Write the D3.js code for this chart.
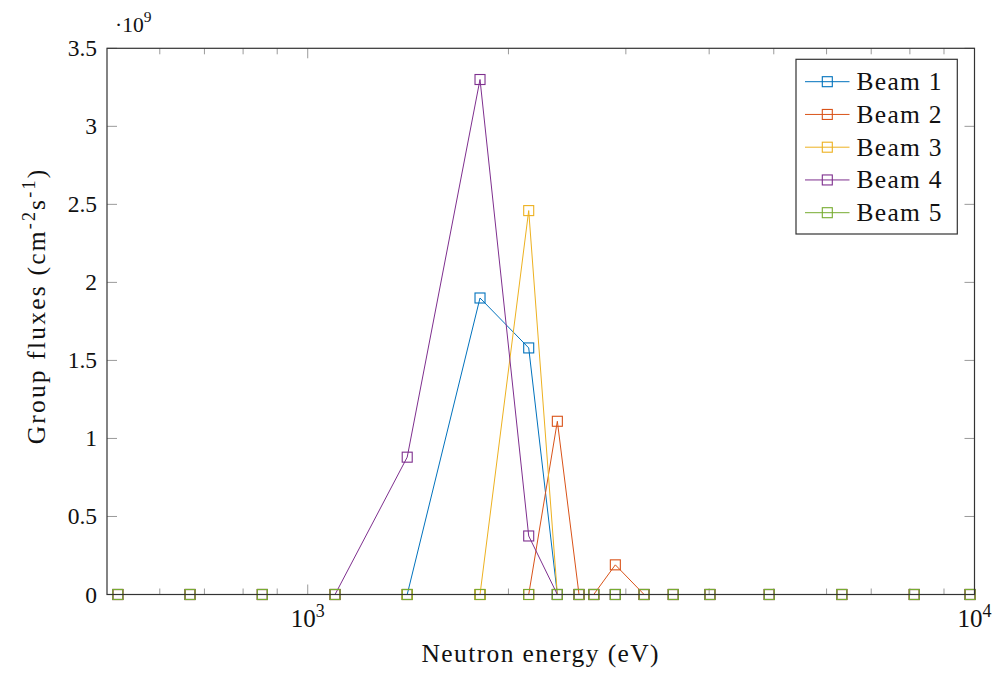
<!DOCTYPE html>
<html>
<head>
<meta charset="utf-8">
<script src="https://cdn.jsdelivr.net/npm/d3@7"></script>
<style>
  html, body { margin: 0; padding: 0; background: #fff; }
</style>
</head>
<body>
<svg id="chart" width="994" height="675" font-family="'Liberation Serif', 'DejaVu Serif', serif"></svg>
<script>
// Group energies (eV) at which the fluxes are tabulated
const energies = [519, 666, 855, 1099, 1410, 1813, 2145, 2368, 2552, 2685, 2893, 3195, 3534, 4010, 4923, 6323, 8123, 9848];

// Group fluxes per beam (cm^-2 s^-1)
const beam1 = [0, 0, 0, 0, 0, 1.90e9, 1.58e9, 0, 0, 0, 0, 0, 0, 0, 0, 0, 0, 0];
const beam2 = [0, 0, 0, 0, 0, 0, 0, 1.11e9, 0, 0, 0.19e9, 0, 0, 0, 0, 0, 0, 0];
const beam3 = [0, 0, 0, 0, 0, 0, 2.46e9, 0, 0, 0, 0, 0, 0, 0, 0, 0, 0, 0];
const beam4 = [0, 0, 0, 0, 0.88e9, 3.30e9, 0.375e9, 0, 0, 0, 0, 0, 0, 0, 0, 0, 0, 0];
const beam5 = [0, 0, 0, 0, 0, 0, 0, 0, 0, 0, 0, 0, 0, 0, 0, 0, 0, 0];

const seriesNames = ["Beam 1", "Beam 2", "Beam 3", "Beam 4", "Beam 5"];
const seriesValues = [beam1, beam2, beam3, beam4, beam5];
const seriesColors = ["#0072BD", "#D95319", "#EDB120", "#7E2F8E", "#77AC30"];

const yTicks = [0, 0.5e9, 1e9, 1.5e9, 2e9, 2.5e9, 3e9, 3.5e9];
const xMajorTicks = [1e3, 1e4];
const xMinorTicks = [600, 700, 800, 900, 2000, 3000, 4000, 5000, 6000, 7000, 8000, 9000];

const svg = d3.select("#chart");
const L = 107, R = 974.5, T = 48.3, B = 594.5;

const x = d3.scaleLog().domain([500, 10000]).range([L, R]);
const y = d3.scaleLinear().domain([0, 3.5e9]).range([B, T]);

// tick marks, drawn inward on all four sides
const tickG = svg.append("g").attr("stroke", "#9a9a9a").attr("stroke-width", 1);
yTicks.forEach(v => {
  tickG.append("line").attr("x1", L).attr("x2", L + 10).attr("y1", y(v)).attr("y2", y(v));
  tickG.append("line").attr("x1", R).attr("x2", R - 10).attr("y1", y(v)).attr("y2", y(v));
});
xMajorTicks.forEach(v => {
  tickG.append("line").attr("x1", x(v)).attr("x2", x(v)).attr("y1", B).attr("y2", B - 10);
  tickG.append("line").attr("x1", x(v)).attr("x2", x(v)).attr("y1", T).attr("y2", T + 10);
});
xMinorTicks.forEach(v => {
  tickG.append("line").attr("x1", x(v)).attr("x2", x(v)).attr("y1", B).attr("y2", B - 6);
  tickG.append("line").attr("x1", x(v)).attr("x2", x(v)).attr("y1", T).attr("y2", T + 6);
});

// y tick labels
svg.append("g").selectAll("text").data(yTicks).join("text")
  .attr("x", 97).attr("y", d => y(d) + 8)
  .attr("text-anchor", "end").attr("font-size", 23.5).attr("fill", "#111")
  .text(d => d3.format("~g")(d / 1e9));

// x tick labels: 10^3, 10^4
xMajorTicks.forEach(v => {
  const t = svg.append("text").attr("x", x(v)).attr("y", 627)
    .attr("text-anchor", "middle").attr("font-size", 25).attr("fill", "#111");
  t.append("tspan").text("10");
  t.append("tspan").attr("dy", -10).attr("font-size", 18).text(Math.round(Math.log10(v)));
});

// scale factor above the y axis
const sf = svg.append("text").attr("x", 115).attr("y", 31.5).attr("font-size", 21.5).attr("fill", "#111");
sf.append("tspan").text("·10");
sf.append("tspan").attr("dy", -10).attr("font-size", 15.5).text("9");

// axis titles
svg.append("text").attr("x", (L + R) / 2).attr("y", 662)
  .attr("text-anchor", "middle").attr("font-size", 25.5).attr("fill", "#111")
  .attr("letter-spacing", 1.4)
  .text("Neutron energy (eV)");

const yl = svg.append("text")
  .attr("transform", "translate(45,306) rotate(-90)")
  .attr("text-anchor", "middle").attr("font-size", 25.5).attr("fill", "#111")
  .attr("letter-spacing", 2.2);
yl.append("tspan").text("Group fluxes (cm");
yl.append("tspan").attr("dy", -10).attr("font-size", 18).text("-2");
yl.append("tspan").attr("dy", 10).text("s");
yl.append("tspan").attr("dy", -10).attr("font-size", 18).text("-1");
yl.append("tspan").attr("dy", 10).text(")");

// plot lines with hollow square markers
const line = d3.line().x(d => x(d[0])).y(d => y(d[1]));
const plotG = svg.append("g");
seriesValues.forEach((vals, i) => {
  const pts = energies.map((e, j) => [e, vals[j]]);
  const g = plotG.append("g");
  g.append("path").attr("d", line(pts)).attr("fill", "none")
    .attr("stroke", seriesColors[i]).attr("stroke-width", 1);
  g.selectAll("rect").data(pts).join("rect")
    .attr("x", d => x(d[0]) - 5).attr("y", d => y(d[1]) - 5)
    .attr("width", 10).attr("height", 10)
    .attr("fill", "none").attr("stroke", seriesColors[i]).attr("stroke-width", 1.1);
});

// axis frame
svg.append("rect").attr("x", L).attr("y", T).attr("width", R - L).attr("height", B - T)
  .attr("fill", "none").attr("stroke", "#333").attr("stroke-width", 1.2);

// legend
const lg = svg.append("g");
lg.append("rect").attr("x", 796).attr("y", 59.3).attr("width", 161.3).attr("height", 174.7)
  .attr("fill", "#fff").attr("stroke", "#333").attr("stroke-width", 1.2);
seriesNames.forEach((name, i) => {
  const cy = 81.7 + i * 32.75;
  lg.append("line").attr("x1", 805).attr("x2", 849.5).attr("y1", cy).attr("y2", cy)
    .attr("stroke", seriesColors[i]).attr("stroke-width", 1);
  lg.append("rect").attr("x", 822.3).attr("y", cy - 5).attr("width", 10).attr("height", 10)
    .attr("fill", "none").attr("stroke", seriesColors[i]).attr("stroke-width", 1.1);
  lg.append("text").attr("x", 856.5).attr("y", cy + 8.5).attr("font-size", 25.5).attr("fill", "#111")
    .attr("textLength", 85).attr("lengthAdjust", "spacing")
    .text(name);
});
</script>
</body>
</html>
